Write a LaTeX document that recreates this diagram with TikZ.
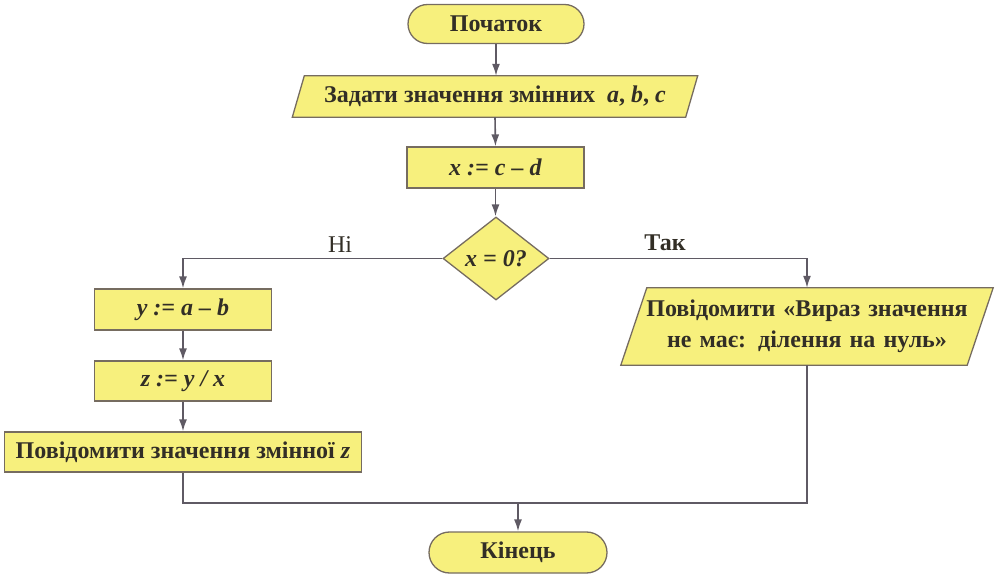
\documentclass[tikz,border=0pt]{standalone}
\usepackage{fontspec}
\setmainfont{Liberation Serif}
\usetikzlibrary{shapes.misc,shapes.geometric,arrows.meta,backgrounds}
\definecolor{fillc}{RGB}{247,240,125}
\definecolor{edgec}{RGB}{118,108,96}
\definecolor{linec}{RGB}{95,90,100}
\definecolor{textc}{RGB}{50,46,38}
\begin{document}
\begin{tikzpicture}[x=1pt,y=-1pt,
  txt/.style={text=textc,font=\bfseries\fontsize{24}{31}\selectfont,inner sep=0pt},
  shp/.style={txt,draw=edgec,fill=fillc,line width=1.3pt},
  term/.style={shp,rounded rectangle,minimum width=#1,minimum height=39pt},
  procbox/.style={shp,rectangle,minimum width=#1,minimum height=41pt},
  iobox/.style={txt,rectangle},
  iofill/.style={draw=edgec,fill=fillc,line width=1.3pt,line join=miter},
  decbox/.style={shp,diamond,minimum width=106pt,minimum height=83pt},
  conn/.style={draw=linec,line width=1.6pt},
  arr/.style={conn,-{Latex[length=12pt,width=8pt]}},
  lbl/.style={text=textc,font=\fontsize{24}{28}\selectfont,inner sep=0pt}
]
\useasboundingbox (0,0) rectangle (997,577);

\node[term=176pt] (start) at (496,24) {Початок};
\node[iobox,minimum width=393pt,minimum height=41pt] (inp) at (495,96.5) {Задати значення змінних~ \textit{a}, \textit{b}, \textit{c}};
\node[procbox=177pt] (xcd) at (495.5,167.5) {\textit{x := c – d}};
\node[decbox] (dec) at (496,258.5) {\textit{x = 0?}};
\node[procbox=177pt] (ybox) at (183,309.5) {\textit{y := a – b}};
\node[procbox=177pt,minimum height=40pt] (zbox) at (183,381) {\textit{z := y / x}};
\node[procbox=357pt,minimum height=40pt] (outz) at (183,452) {Повідомити значення змінної \textit{z}};
\node[iobox,minimum width=346pt,minimum height=77pt,text width=340pt,align=center] (msg) at (807,326.5) {\bfseries Повідомити «Вираз значення\\\bfseries не має: ділення на нуль»};
\node[term=178pt,minimum height=41pt] (end) at (518,552.5) {Кінець};

\begin{scope}[on background layer]
\draw[iofill] ([xshift=6pt]inp.north west) -- ([xshift=6pt]inp.north east) -- ([xshift=-6pt]inp.south east) -- ([xshift=-6pt]inp.south west) -- cycle;
\draw[iofill] ([xshift=13pt]msg.north west) -- ([xshift=13pt]msg.north east) -- ([xshift=-13pt]msg.south east) -- ([xshift=-13pt]msg.south west) -- cycle;
\end{scope}

\node[lbl] (no) at (340,245) {Ні};
\node[lbl,font=\bfseries\fontsize{24}{28}\selectfont] (yes) at (665,243) {Так};

\coordinate (merge) at (518,503);

\draw[arr] (start.south) -- (start.south |- inp.north);
\draw[arr] (inp.south) -- (xcd.north);
\draw[arr] (xcd.south) -- (xcd.south |- dec.north);
\draw[arr] (dec.west) -| (ybox.north);
\draw[arr] (dec.east) -| (msg.north);
\draw[arr] (ybox.south) -- (zbox.north);
\draw[arr] (zbox.south) -- (outz.north);
\draw[conn] (outz.south) |- (msg.south |- merge) -- (msg.south);
\draw[arr] (merge) -- (end.north);
\end{tikzpicture}
\end{document}
